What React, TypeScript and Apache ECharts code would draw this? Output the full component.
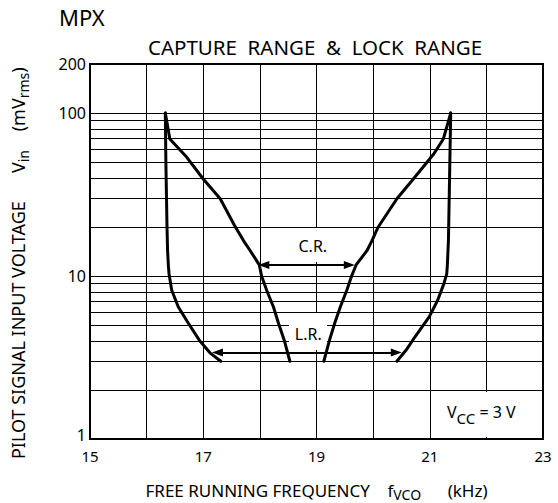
import React, { useEffect, useRef } from 'react';
import * as echarts from 'echarts';

// ---- data ----
const xMin = 15;
const xMax = 23;
const yMin = 1;
const yMax = 200;
const xLabelTicks = [15, 17, 19, 21, 23];
const yLabelTicks = [1, 10, 100, 200];
const minorGridY = [2, 3, 4, 5, 6, 7, 8, 9, 20, 30, 40, 50, 60, 70, 80, 90];

// lock range, left boundary (f kHz, Vin mVrms)
const lockLeft: [number, number][] = [
  [16.33, 100], [16.34, 50], [16.36, 20], [16.37, 14.3], [16.385, 11.5],
  [16.396, 10.3], [16.443, 8.18], [16.56, 6.46], [16.74, 5.11],
  [16.93, 4.04], [17.13, 3.35], [17.31, 3.0],
];
// capture range, left boundary
const captureLeft: [number, number][] = [
  [16.33, 100], [16.41, 69.3], [16.71, 53.5], [17.0, 39.4], [17.3, 29.8],
  [17.55, 20.5], [17.71, 16.5], [17.83, 14.3], [17.99, 11.7], [18.03, 10],
  [18.12, 8.18], [18.24, 6.46], [18.33, 5.11], [18.43, 4.04], [18.53, 3.0],
];
// capture range, right boundary
const captureRight: [number, number][] = [
  [21.37, 100], [21.24, 69.3], [21.07, 56.1], [20.71, 39.4], [20.42, 29.8],
  [20.09, 20], [19.98, 16.5], [19.89, 14.3], [19.7, 11.7], [19.62, 10],
  [19.535, 8.18], [19.42, 6.46], [19.32, 5.11], [19.23, 4.04], [19.13, 3.0],
];
// lock range, right boundary
const lockRight: [number, number][] = [
  [21.37, 100], [21.35, 40], [21.33, 16.5], [21.31, 11.5], [21.3, 10.3],
  [21.25, 8.98], [21.14, 7.1], [20.99, 5.61], [20.74, 4.24], [20.58, 3.5],
  [20.42, 3.0],
];
// arrows (symbol centres)
const crArrow: [number, number][] = [[18.07, 11.7], [19.58, 11.7]];
const lrArrow: [number, number][] = [[17.25, 3.4], [20.41, 3.4]];

const FONT = '"Noto Sans", "Open Sans", sans-serif';

export default function App() {
  const ref = useRef<HTMLDivElement>(null);
  useEffect(() => {
    if (!ref.current) return;
    const chart = echarts.init(ref.current, null, { renderer: 'svg' });
    const curve = (name: string, data: [number, number][]) => ({
      name,
      type: 'line',
      data,
      showSymbol: false,
      symbol: 'none',
      smooth: false,
      z: 3,
      lineStyle: { color: '#000', width: 3, cap: 'round', join: 'round' },
    });
    const arrow = (pts: [number, number][]) => ({
      type: 'line',
      data: [],
      markLine: {
        silent: true,
        z: 5,
        symbol: ['triangle', 'triangle'],
        symbolSize: [8, 11],
        label: { show: false },
        lineStyle: { color: '#000', width: 2, type: 'solid' },
        data: [[{ coord: pts[0] }, { coord: pts[1] }]],
      },
    });
    chart.setOption({
      animation: false,
      backgroundColor: '#fff',
      grid: {
        left: 90,
        right: 15,
        top: 64,
        bottom: 64,
        containLabel: false,
        outerBoundsMode: 'none',
        show: true,
        borderColor: '#000',
        borderWidth: 2,
        backgroundColor: 'transparent',
      },
      xAxis: {
        type: 'value',
        min: xMin,
        max: xMax,
        interval: 1,
        axisLine: { show: false },
        axisTick: { show: false },
        splitLine: { show: true, lineStyle: { color: '#000', width: 1 } },
        axisLabel: {
          color: '#000',
          fontFamily: FONT,
          fontSize: 15,
          margin: 9,
          formatter: (v: number) => (xLabelTicks.includes(v) ? String(v) : ''),
        },
        name: '{n|FREE RUNNING FREQUENCY}{n|    f}{sub|VCO}{n|      (kHz)}',
        nameLocation: 'middle',
        nameGap: 43,
        nameTextStyle: {
          rich: {
            n: { fontFamily: FONT, fontSize: 17, color: '#000', verticalAlign: 'top' },
            sub: { fontFamily: FONT, fontSize: 14, color: '#000', verticalAlign: 'top', padding: [5, 0, 0, 0] },
          },
        },
      },
      yAxis: {
        type: 'log',
        logBase: 10,
        min: yMin,
        max: yMax,
        axisLine: { show: false },
        axisTick: { show: false },
        splitLine: { show: true, lineStyle: { color: '#000', width: 1 } },
        axisLabel: {
          color: '#000',
          fontFamily: FONT,
          fontSize: 16,
          margin: 4,
          showMaxLabel: true,
          showMinLabel: true,
          formatter: (v: number) => {
            const r = Math.round(v);
            if (!yLabelTicks.includes(r)) return '';
            return r === yMin ? `{lo|${r}}` : String(r);
          },
          rich: {
            lo: { fontFamily: FONT, fontSize: 16, color: '#000', padding: [0, 0, 8, 0] },
          },
        },
        name: '{n|PILOT SIGNAL INPUT VOLTAGE}{n|      V}{sub|in}{n|    (mV}{sub|rms}{n|)     }',
        nameLocation: 'middle',
        nameRotate: 90,
        nameGap: 60,
        nameTextStyle: {
          rich: {
            n: { fontFamily: FONT, fontSize: 18, color: '#000', verticalAlign: 'top' },
            sub: { fontFamily: FONT, fontSize: 14, color: '#000', verticalAlign: 'top', padding: [7, 0, 0, 0] },
          },
        },
      },
      graphic: [
        {
          type: 'text', x: 59, y: 17, z: 10,
          style: { text: 'MPX', font: `22px ${FONT}`, fill: '#000', textAlign: 'left', textVerticalAlign: 'middle', align: 'left', verticalAlign: 'middle' },
        },
        {
          type: 'text', x: 315, y: 46.5, z: 10,
          style: { text: 'CAPTURE  RANGE  &  LOCK  RANGE', font: `20.5px ${FONT}`, fill: '#000', textAlign: 'center', textVerticalAlign: 'middle', align: 'center', verticalAlign: 'middle' },
        },
        // label backgrounds
        { type: 'rect', z: 2, shape: { x: 300, y: 228, width: 30, height: 34 }, style: { fill: '#fff' } },
        { type: 'rect', z: 2, shape: { x: 289, y: 313, width: 38, height: 37 }, style: { fill: '#fff' } },
        { type: 'rect', z: 2, shape: { x: 470, y: 392, width: 40, height: 45 }, style: { fill: '#fff' } },
        {
          type: 'text', x: 312.8, y: 246.3, z: 10,
          style: { text: 'C.R.', font: `16px ${FONT}`, fill: '#000', textAlign: 'center', textVerticalAlign: 'middle', align: 'center', verticalAlign: 'middle' },
        },
        {
          type: 'text', x: 308.3, y: 333.7, z: 10,
          style: { text: 'L.R.', font: `16px ${FONT}`, fill: '#000', textAlign: 'center', textVerticalAlign: 'middle', align: 'center', verticalAlign: 'middle' },
        },
        {
          type: 'text', x: 447, y: 404, z: 10,
          style: {
            text: '{v|V}{c|CC}{v| = 3 V}',
            fill: '#000',
            rich: {
              v: { fontFamily: FONT, fontSize: 16, fill: '#000', verticalAlign: 'top' },
              c: { fontFamily: FONT, fontSize: 15, fill: '#000', verticalAlign: 'top', padding: [6, 0, 0, 0] },
            },
          },
        },
      ],
      series: [
        {
          type: 'line',
          data: [],
          markLine: {
            silent: true,
            z: 1,
            symbol: 'none',
            label: { show: false },
            lineStyle: { color: '#000', width: 1, type: 'solid' },
            data: minorGridY.map((v) => ({ yAxis: v })),
          },
        },
        curve('lockLeft', lockLeft),
        curve('captureLeft', captureLeft),
        curve('captureRight', captureRight),
        curve('lockRight', lockRight),
        arrow(crArrow),
        arrow(lrArrow),
      ],
    });
    return () => chart.dispose();
  }, []);
  return (
    <div
      ref={ref}
      style={{ position: 'fixed', left: 0, top: 0, width: 558, height: 503, background: '#fff' }}
    />
  );
}
